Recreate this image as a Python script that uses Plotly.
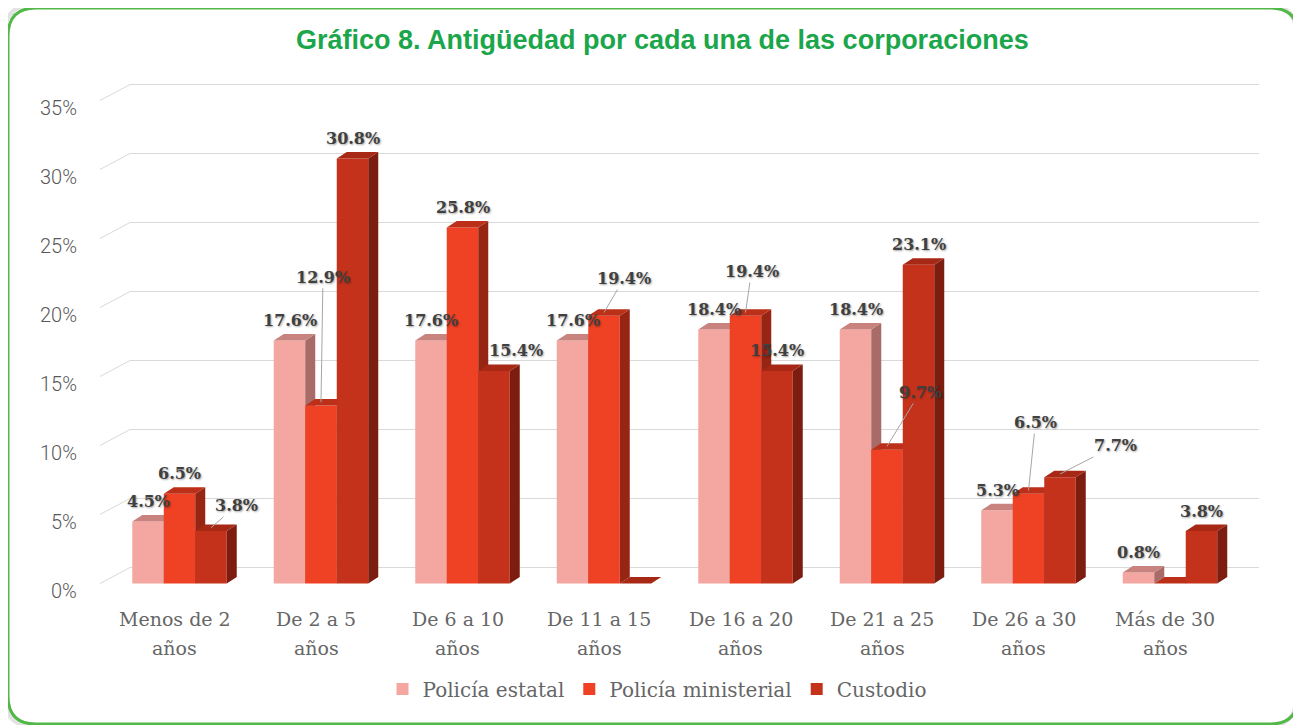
import plotly.graph_objects as go

# ---------------- data ----------------
cat_line1 = ["Menos de 2", "De 2 a 5", "De 6 a 10", "De 11 a 15",
             "De 16 a 20", "De 21 a 25", "De 26 a 30", "Más de 30"]
cat_line2 = ["años"] * 8
series_names = ["Policía estatal", "Policía ministerial", "Custodio"]
estatal = [4.5, 17.6, 17.6, 17.6, 18.4, 18.4, 5.3, 0.8]
ministerial = [6.5, 12.9, 25.8, 19.4, 19.4, 9.7, 6.5, 0.0]
custodio = [3.8, 30.8, 15.4, 0.0, 15.4, 23.1, 7.7, 3.8]
y_ticks = [0, 5, 10, 15, 20, 25, 30, 35]
y_tick_text = ["0%", "5%", "10%", "15%", "20%", "25%", "30%", "35%"]
title_text = "Gráfico 8. Antigüedad por cada una de las corporaciones"

series_values = [estatal, ministerial, custodio]

# ---------------- styling / geometry ----------------
OFF = 8                                      # page body margin
W, H = 1301 - OFF, 725 - OFF


def sx_(px):
    return px - OFF


PL, PR, PT, PB = sx_(100), sx_(1262), sx_(70), sx_(600)   # plot area in figure pixels
PX_PER_CAT = 141.5
PX_PER_PCT = 13.8
X0PX, Y0PX = sx_(179.5), sx_(583.5)
xmin = (PL - X0PX) / PX_PER_CAT
xmax = (PR - X0PX) / PX_PER_CAT
ymin = (Y0PX - PB) / PX_PER_PCT
ymax = (Y0PX - PT) / PX_PER_PCT

BW = 31.5 / PX_PER_CAT        # bar width in category units
DX = 10 / PX_PER_CAT          # bar depth
DY = 6.5 / PX_PER_PCT
WDX = 30 / PX_PER_CAT         # wall depth
WDY = 16 / PX_PER_PCT
x_back_right = (sx_(1259) - X0PX) / PX_PER_CAT

front_colors = ["#F4A7A1", "#EF4124", "#C4321C"]
top_colors = ["#C8837F", "#BC3019", "#A82816"]
side_colors = ["#A86B67", "#962513", "#7C1D10"]
grid_color = "#D9D9D9"
label_color = "#404040"
axis_text_color = "#666666"

fig = go.Figure()

# gridlines (back wall + diagonal floor-to-wall)
gx, gy = [], []
for v in y_ticks:
    gx += [xmin, xmin + WDX, x_back_right, None]
    gy += [v, v + WDY, v + WDY, None]
fig.add_trace(go.Scatter(x=gx, y=gy, mode="lines", line=dict(color=grid_color, width=1),
                         hoverinfo="skip", showlegend=False, zorder=0))

# bars with pseudo-3D faces
for j, (name, vals) in enumerate(zip(series_names, series_values)):
    off = (j - 1) * BW
    xs = [i + off for i in range(len(vals))]
    sx, sy, tx, ty = [], [], [], []
    for xc, v in zip(xs, vals):
        x0, x1 = xc - BW / 2, xc + BW / 2
        sx += [x1, x1 + DX, x1 + DX, x1, x1, None]
        sy += [0, DY, v + DY, v, 0, None]
        tx += [x0, x1, x1 + DX, x0 + DX, x0, None]
        ty += [v, v, v + DY, v + DY, v, None]
    fig.add_trace(go.Scatter(x=sx, y=sy, mode="lines", fill="toself",
                             fillcolor=side_colors[j], line=dict(width=0, color=side_colors[j]),
                             hoverinfo="skip", showlegend=False, zorder=j + 1))
    fig.add_trace(go.Scatter(x=tx, y=ty, mode="lines", fill="toself",
                             fillcolor=top_colors[j], line=dict(width=0, color=top_colors[j]),
                             hoverinfo="skip", showlegend=False, zorder=j + 1))
    fig.add_trace(go.Bar(x=xs, y=vals, width=BW, name=name,
                         marker=dict(color=front_colors[j], line=dict(width=0)),
                         zorder=j + 1))

# data labels
special = {
    (0, 2): (25, -22),
    (1, 1): (2, -125),
    (3, 1): (20, -34),
    (4, 1): (6, -41),
    (5, 1): (33, -54),
    (6, 1): (7, -68),
    (6, 2): (55, -28),
}
shift_only = {(2, 2): 22}
lab_font = dict(family="DejaVu Serif", size=16, color=label_color, weight="bold",
                shadow="1px 1px 2px rgba(0,0,0,0.35)")
annotations = []
for j, vals in enumerate(series_values):
    off = (j - 1) * BW
    for i, v in enumerate(vals):
        if v == 0:
            continue
        txt = f"{v:.1f}%"
        if (i, j) in special:
            ax, ay = special[(i, j)]
            annotations.append(dict(x=i + off, y=v + DY / 2, text=txt, showarrow=True,
                                    arrowhead=0, arrowwidth=1, arrowcolor="#A6A6A6",
                                    ax=ax, ay=ay, font=lab_font, standoff=0))
        else:
            annotations.append(dict(x=i + off, y=v + DY, text=txt, showarrow=False,
                                    yanchor="bottom", yshift=2,
                                    xshift=shift_only.get((i, j), 0), font=lab_font))

# y tick labels
for v, t in zip(y_ticks, y_tick_text):
    annotations.append(dict(x=xmin, y=v, text=t, showarrow=False, xanchor="right",
                            yanchor="middle", xshift=-21, yshift=-7,
                            font=dict(family="Roboto", size=20, color="#595959", weight=300)))

# category labels
for i, (a, b) in enumerate(zip(cat_line1, cat_line2)):
    annotations.append(dict(x=i, y=ymin, text=a, showarrow=False, yanchor="middle",
                            xshift=-5, yshift=-19,
                            font=dict(family="DejaVu Serif", size=19, color=axis_text_color)))
    annotations.append(dict(x=i, y=ymin, text=b, showarrow=False, yanchor="middle",
                            xshift=-5, yshift=-48,
                            font=dict(family="DejaVu Serif", size=19, color=axis_text_color)))


def px2paper(px, py):
    return (sx_(px) - PL) / (PR - PL), (PB - sx_(py)) / (PB - PT)


# title
tx_, ty_ = px2paper(662, 40)
annotations.append(dict(xref="paper", yref="paper", x=tx_, y=ty_, text=title_text,
                        showarrow=False, xanchor="center", yanchor="middle",
                        font=dict(family="Liberation Sans Narrow, Liberation Sans", size=27,
                                  color="#1BA64B", weight="bold")))


# rounded border
def rounded_path(x0, y0, x1, y1, r):
    def P(px, py):
        a, b = px2paper(px, py)
        return f"{a:.5f},{b:.5f}"
    return (f"M {P(x0 + r, y0)} L {P(x1 - r, y0)} Q {P(x1, y0)} {P(x1, y0 + r)} "
            f"L {P(x1, y1 - r)} Q {P(x1, y1)} {P(x1 - r, y1)} "
            f"L {P(x0 + r, y1)} Q {P(x0, y1)} {P(x0, y1 - r)} "
            f"L {P(x0, y0 + r)} Q {P(x0, y0)} {P(x0 + r, y0)} Z")


shapes = [
    dict(type="path", xref="paper", yref="paper", path=rounded_path(5, 5, 1296, 726, 28),
         line=dict(color="#E3E3E3", width=4), layer="below"),
    dict(type="path", xref="paper", yref="paper", path=rounded_path(8, 8, 1298, 724, 28),
         line=dict(color="#52B848", width=3), layer="above"),
]

lx, ly = px2paper(657, 689)
fig.update_layout(
    width=W, height=H,
    margin=dict(l=PL, r=W - PR, t=PT, b=H - PB, pad=0),
    paper_bgcolor="white", plot_bgcolor="white",
    barmode="overlay",
    xaxis=dict(range=[xmin, xmax], showgrid=False, zeroline=False, showticklabels=False,
               showline=False, fixedrange=True),
    yaxis=dict(range=[ymin, ymax], showgrid=False, zeroline=False, showticklabels=False,
               showline=False, fixedrange=True),
    showlegend=True,
    legend=dict(orientation="h", x=lx, y=ly, xanchor="center", yanchor="middle",
                font=dict(family="DejaVu Serif", size=20, color=axis_text_color),
                traceorder="normal", itemwidth=30, bgcolor="rgba(0,0,0,0)"),
    annotations=annotations,
    shapes=shapes,
)

fig.write_html("out.html")
